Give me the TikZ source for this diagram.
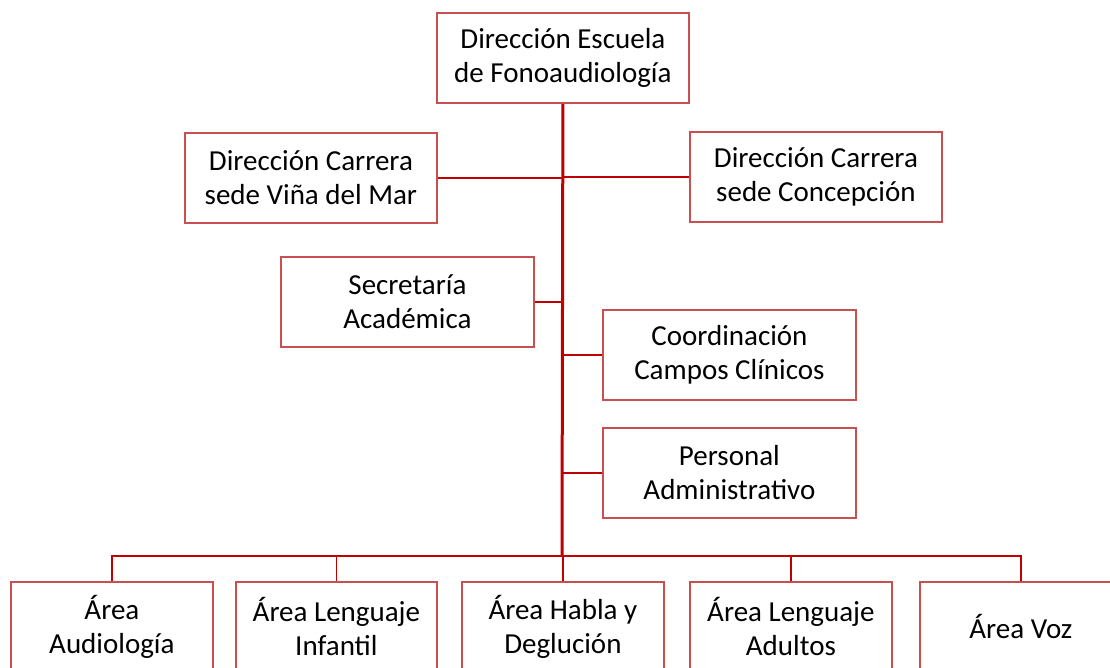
\documentclass[tikz,border=0pt]{standalone}
\usepackage{fontspec}
\setmainfont{Carlito}
\definecolor{boxred}{RGB}{200,80,80}
\definecolor{linered}{RGB}{192,0,0}
\begin{document}
\begin{tikzpicture}[x=1pt,y=-1pt,
  orgbox/.style={draw=boxred,line width=1.8pt,fill=white,align=center,
    font=\fontsize{29}{34}\selectfont,inner sep=0pt,anchor=north west},
  conn/.style={draw=linered,line width=1.8pt},
  trunk/.style={draw=linered,line width=3pt}]
\useasboundingbox (0,0) rectangle (1110,667);
\clip (0,0) rectangle (1110,667);
\fill[white] (0,0) rectangle (1110,667);
\node[orgbox,minimum width=252pt,minimum height=90pt] (dir) at (436,12) {Dirección Escuela\\de Fonoaudiología};
\node[orgbox,minimum width=252pt,minimum height=90pt] (vina) at (184,132) {Dirección Carrera\\sede Viña del Mar};
\node[orgbox,minimum width=252pt,minimum height=90pt] (conc) at (689,131) {Dirección Carrera\\sede Concepción};
\node[orgbox,minimum width=253pt,minimum height=90pt] (sec) at (280,256) {Secretaría\\Académica};
\node[orgbox,minimum width=253pt,minimum height=90pt] (coord) at (602,309) {Coordinación\\Campos Clínicos};
\node[orgbox,minimum width=253pt,minimum height=90pt] (pers) at (602,427) {Personal\\Administrativo};
\node[orgbox,minimum width=202pt,minimum height=90pt] (a1) at (10,581) {Área\\Audiología};
\node[orgbox,minimum width=201pt,minimum height=90pt] (a2) at (235,581) {Área Lenguaje\\Infantil};
\node[orgbox,minimum width=202pt,minimum height=90pt] (a3) at (461,581) {Área Habla y\\Deglución};
\node[orgbox,minimum width=202pt,minimum height=90pt] (a4) at (689,581) {Área Lenguaje\\Adultos};
\node[orgbox,minimum width=202pt,minimum height=90pt] (a5) at (919,581) {Área Voz};
\coordinate (bus) at (562,556);
\coordinate (bl) at (a1.north |- bus);
\coordinate (br) at (a5.north |- bus);
\draw[trunk] (dir.south) -- (bus);
\draw[conn] (vina.east) -- (vina.east -| dir.south);
\draw[conn] (conc.west) -- (conc.west -| dir.south);
\draw[conn] (sec.east) -- (sec.east -| dir.south);
\draw[conn] (coord.west) -- (coord.west -| dir.south);
\draw[conn] (pers.west) -- (pers.west -| dir.south);
\draw[conn] (a1.north) -- (bl) -- (br) -- (a5.north);
\draw[conn] (a2.north) -- (a2.north |- bus);
\draw[conn] (a3.north) -- (a3.north |- bus);
\draw[conn] (a4.north) -- (a4.north |- bus);
\end{tikzpicture}
\end{document}
